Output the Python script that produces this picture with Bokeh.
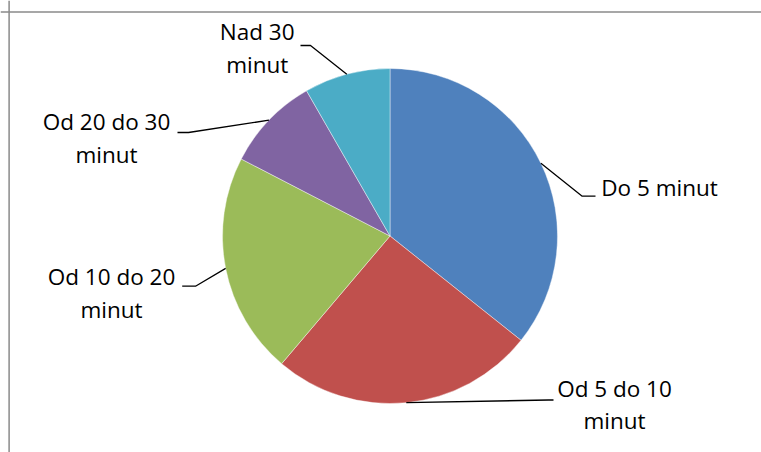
import math
from bokeh.plotting import figure
from bokeh.models import Range1d, Span, ColumnDataSource
from bokeh.core.properties import value
from bokeh.embed import file_html
from bokeh.resources import INLINE

# ---- data ----
categories = ["Do 5 minut", "Od 5 do 10\nminut", "Od 10 do 20\nminut",
              "Od 20 do 30\nminut", "Nad 30\nminut"]
shares = [35.7, 25.5, 21.4, 9.1, 8.3]
colors = ["#4F81BD", "#C0504D", "#9BBB59", "#8064A2", "#4BACC6"]

# ---- layout (page pixel coordinates) ----
W, H = 761, 452
CX, CY, R = 389.5, 235.5, 167.5
# label first-line baseline centre, leader elbow, leader end
label_xy = [(659, 196.7), (614, 397.3), (111, 285.7), (106, 130.5), (256.7, 40.7)]
elbows = [(581.7, 195.7), (548, 399.5), (195, 285.7), (188, 132), (310, 45)]
ends = [(595, 195.7), (553, 399.5), (181.7, 285.7), (177, 132), (300, 45)]
LINE_GAP = 32.5
TEXT_SHIFT = -9.5


def dy(py):
    return H - py


p = figure(width=W, height=H, output_backend="svg", toolbar_location=None,
           x_range=Range1d(0, W), y_range=Range1d(0, H),
           min_border=0)
p.axis.visible = False
p.grid.visible = False
p.outline_line_color = None
p.background_fill_color = "white"
p.border_fill_color = "white"

# chart-area border (left and top visible)
p.add_layout(Span(location=8.6, dimension="height", line_color="#8a8a8a", line_width=1.5))
p.add_layout(Span(location=dy(11.5), dimension="width", line_color="#8a8a8a", line_width=1.5))

total = sum(shares)
starts, stops, mids = [], [], []
acc = 0.0
for s in shares:
    a0 = math.pi / 2 - acc / total * 2 * math.pi
    acc += s
    a1 = math.pi / 2 - acc / total * 2 * math.pi
    starts.append(a0)
    stops.append(a1)
    mids.append((a0 + a1) / 2)

src = ColumnDataSource(dict(start=starts, end=stops, color=colors))
p.wedge(x=CX, y=dy(CY), radius=R, start_angle="start", end_angle="end",
        direction="clock", fill_color="color", line_color="white",
        line_width=0.6, line_alpha=0.7, source=src)

# leader lines
xs, ys = [], []
for m, e, f in zip(mids, elbows, ends):
    sx = CX + R * math.cos(m)
    sy = dy(CY) + R * math.sin(m)
    xs.append([sx, e[0], f[0]])
    ys.append([sy, dy(e[1]), dy(f[1])])
p.multi_line(xs=xs, ys=ys, line_color="black", line_width=1.3)

# labels
tx, tyv, tt = [], [], []
for lab, (lx, ly) in zip(categories, label_xy):
    for i, line in enumerate(lab.split("\n")):
        tx.append(lx)
        tyv.append(dy(ly + i * LINE_GAP + TEXT_SHIFT))
        tt.append(line)
p.text(x=tx, y=tyv, text=tt, text_align="center", text_baseline="alphabetic",
       text_font=value("Open Sans"), text_font_size="22.5px", text_color="black")

open("out.html", "w").write(file_html(p, INLINE))
